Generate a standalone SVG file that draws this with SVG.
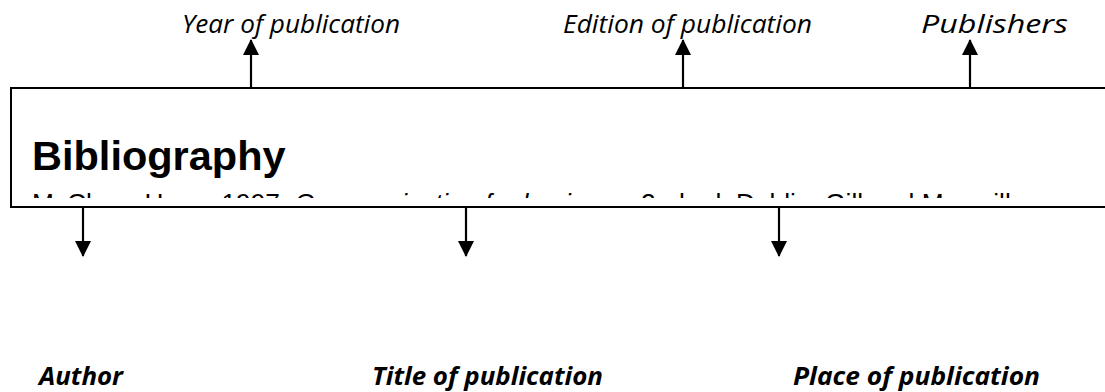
<svg xmlns="http://www.w3.org/2000/svg" width="1105" height="392" viewBox="0 0 1105 392">
  <style>
    .lbl { font-family: "Open Sans", "Liberation Sans", sans-serif; font-style: italic; font-size: 25px; fill: #000; }
    .lblb { font-family: "Open Sans", "Liberation Sans", sans-serif; font-style: italic; font-weight: bold; font-size: 25px; fill: #000; }
    .conn { stroke: #000; stroke-width: 2.2; fill: none; }
    .box { stroke: #000; stroke-width: 2; fill: #fff; }
  </style>
  <defs>
    <marker id="ah" viewBox="0 0 16 16" refX="15" refY="8" markerWidth="16" markerHeight="16" markerUnits="userSpaceOnUse" orient="auto">
      <path d="M0,0 L16,8 L0,16 Z" fill="#000"/>
    </marker>
    <clipPath id="clipLine">
      <rect x="12" y="89" width="1100" height="109"/>
    </clipPath>
  </defs>
  <rect width="1105" height="392" fill="#fff"/>

  <g id="bibliography">
    <rect class="box" x="11" y="88" width="1110" height="119"/>
    <text x="32" y="170" font-family="Liberation Sans, Arial, sans-serif" font-weight="bold" font-size="41.5">Bibliography</text>
    <text x="32" y="211.5" font-family="Liberation Sans, Arial, sans-serif" font-size="26.3" clip-path="url(#clipLine)">McClure, Harry. 1997. <tspan font-style="italic">Communication for business</tspan>. 2nd ed. Dublin: Gill and Macmillan.</text>
  </g>

  <g id="connectors">
    <line class="conn" x1="251" y1="88" x2="251" y2="40" marker-end="url(#ah)"/>
    <line class="conn" x1="683" y1="88" x2="683" y2="40" marker-end="url(#ah)"/>
    <line class="conn" x1="970" y1="88" x2="970" y2="40" marker-end="url(#ah)"/>
    <line class="conn" x1="83" y1="207" x2="83" y2="256" marker-end="url(#ah)"/>
    <line class="conn" x1="466" y1="207" x2="466" y2="256" marker-end="url(#ah)"/>
    <line class="conn" x1="779" y1="207" x2="779" y2="256" marker-end="url(#ah)"/>
  </g>

  <g id="year">
    <text class="lbl" x="182" y="33" textLength="218" lengthAdjust="spacingAndGlyphs">Year of publication</text>
  </g>
  <g id="edition">
    <text class="lbl" x="563" y="33" textLength="249" lengthAdjust="spacingAndGlyphs">Edition of publication</text>
  </g>
  <g id="publishers">
    <text class="lbl" x="921" y="33" textLength="147" lengthAdjust="spacingAndGlyphs">Publishers</text>
  </g>
  <g id="author">
    <text class="lblb" x="39" y="385" textLength="84" lengthAdjust="spacingAndGlyphs">Author</text>
  </g>
  <g id="title">
    <text class="lblb" x="372" y="385" textLength="231" lengthAdjust="spacingAndGlyphs">Title of publication</text>
  </g>
  <g id="place">
    <text class="lblb" x="793" y="385" textLength="247" lengthAdjust="spacingAndGlyphs">Place of publication</text>
  </g>
</svg>
